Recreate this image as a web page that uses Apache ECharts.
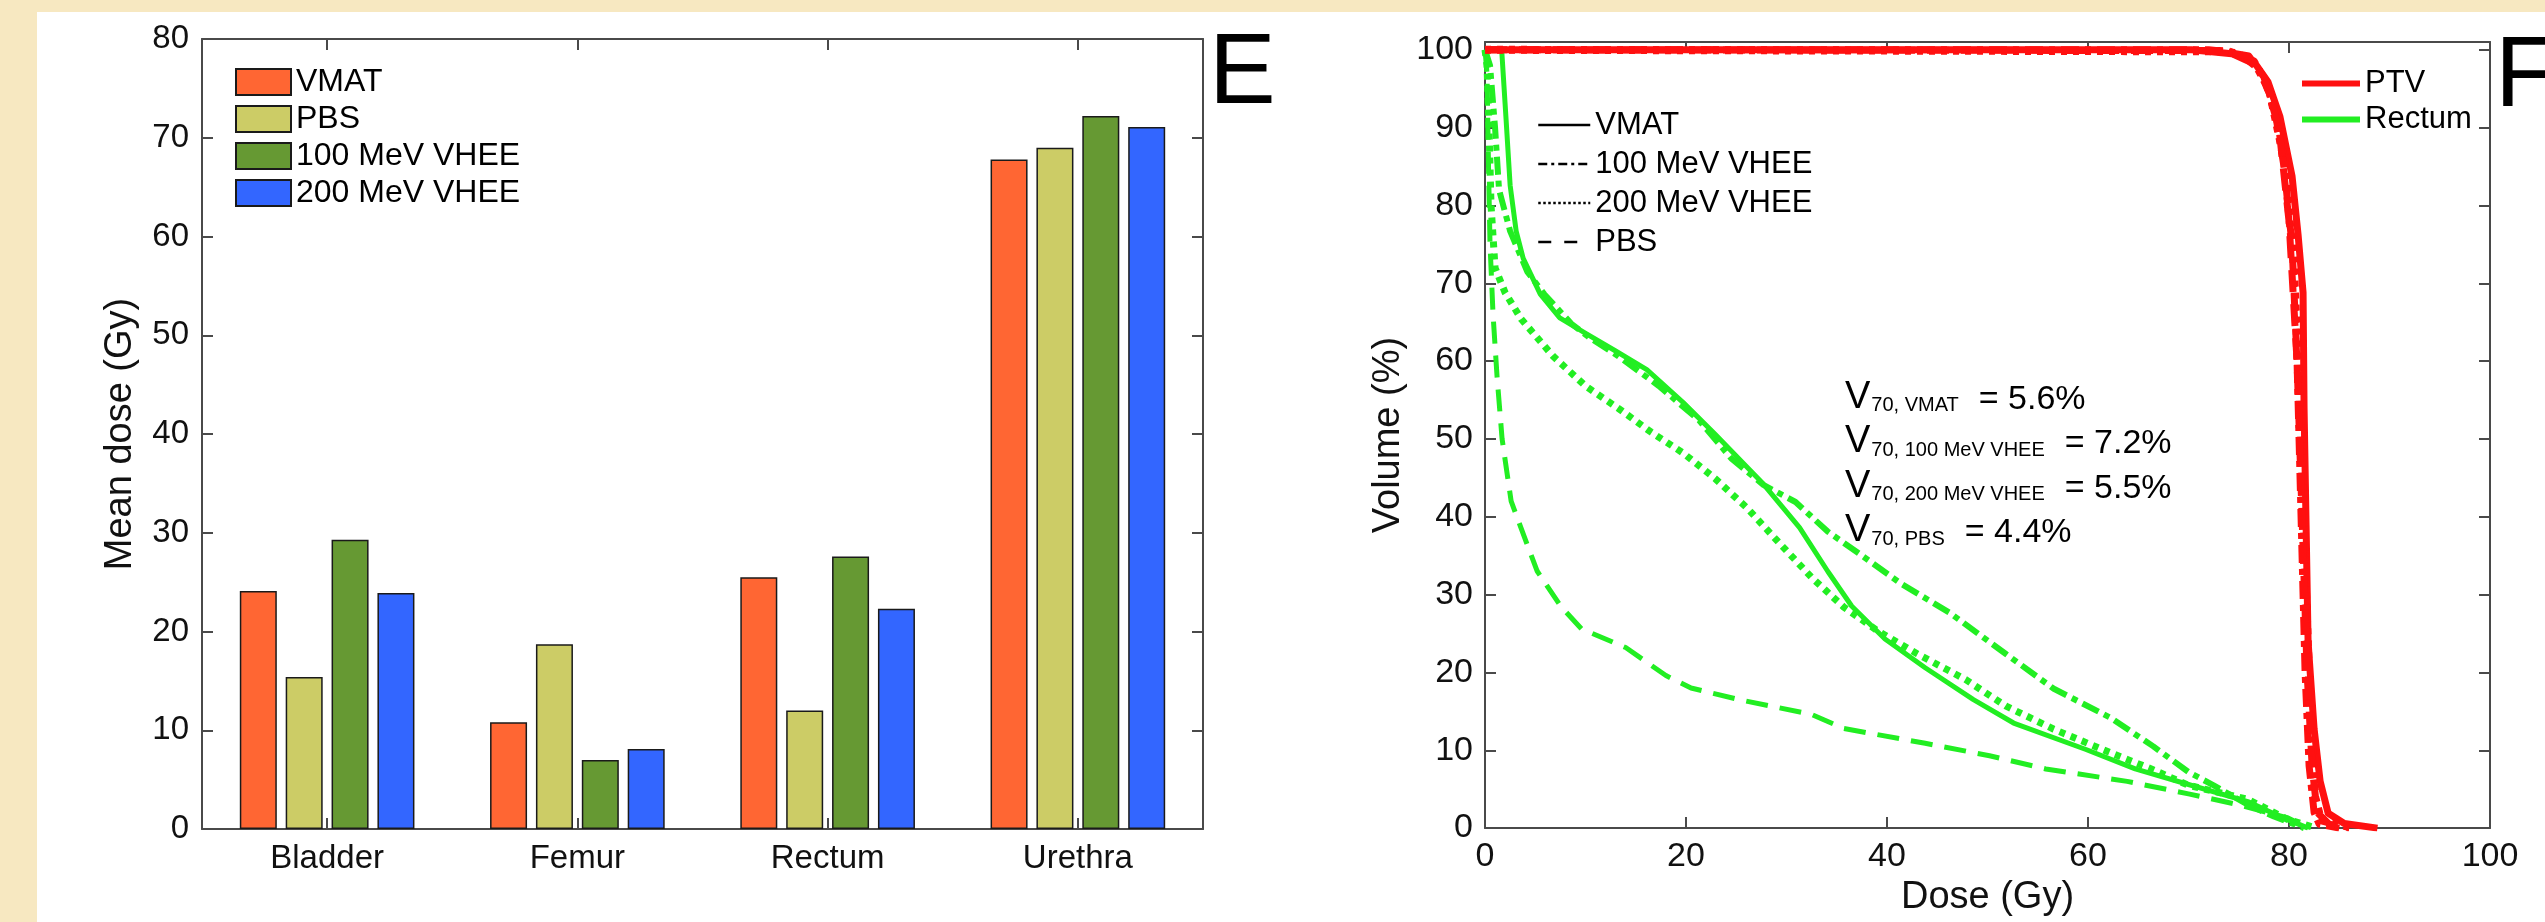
<!DOCTYPE html>
<html>
<head>
<meta charset="utf-8">
<script src="https://cdn.jsdelivr.net/npm/echarts@6.0.0/dist/echarts.min.js"></script>
<style>
  html, body { margin: 0; padding: 0; background: #F7E8C1; }
  #chart { width: 2545px; height: 922px; }
</style>
</head>
<body>
<div id="chart"></div>
<script>
// ---- Panel E: mean dose per organ ----
const organs = ['Bladder', 'Femur', 'Rectum', 'Urethra'];
const planNames = ['VMAT', 'PBS', '100 MeV VHEE', '200 MeV VHEE'];
const meanVMAT = [24.1, 10.8, 25.5, 67.8];
const meanPBS = [15.4, 18.7, 12.0, 69.0];
const mean100MeV = [29.3, 7.0, 27.6, 72.2];
const mean200MeV = [23.9, 8.1, 22.3, 71.1];
const barColors = ['#FF6633', '#CCCC66', '#669933', '#3366FF'];
const meanTicks = { min: 0, max: 80, interval: 10 };

// ---- Panel F: dose-volume histograms, [dose (Gy), volume (%)] ----
const rectumVMAT = [[0, 100], [1.66, 100], [2.1, 91], [2.5, 82.6], [3.1, 76.7], [3.8, 73.2], [5.5, 68.6], [7.4, 65.6], [10.1, 63.5], [13, 61.3], [16.1, 58.9], [19.7, 54.7], [22.9, 50.6], [27.7, 44.2], [31.3, 38.6], [34.1, 33], [36.5, 28.5], [39.8, 24.3], [43.8, 20.6], [48.6, 16.5], [52.6, 13.5], [59.8, 10.1], [64.7, 7.6], [70, 5.6], [75.9, 3.4], [79.1, 1.5], [81.9, 0]];
const rectum100MeV = [[0, 100], [0.5, 98], [1.0, 90], [1.4, 82], [2.5, 76.7], [4.2, 71.5], [5.9, 68.6], [8.6, 64.8], [10.3, 63.1], [13.3, 60.6], [17.3, 56.8], [21.3, 52.4], [24.5, 47.5], [27.7, 44.1], [30.9, 41.9], [34.1, 38.1], [37.3, 35.2], [41.4, 31.4], [46.2, 27.7], [51.8, 22.4], [56.6, 17.9], [62.2, 14.2], [66.5, 10.5], [70, 7.2], [72.5, 5.5], [75.9, 3.0], [78.5, 1.5], [81.5, 0]];
const rectum200MeV = [[0, 100], [0.2, 98], [0.4, 90], [0.6, 80], [1.0, 72], [2.0, 68.8], [3.6, 65.4], [6.8, 60.6], [10, 56.8], [13.3, 53.9], [16.5, 50.9], [19.7, 48.2], [22.9, 44.9], [26.1, 41.1], [29.3, 36.6], [32.5, 32.2], [35.7, 28.4], [39, 25.4], [43, 22.4], [47.8, 19.1], [51.8, 15.7], [56.6, 12.7], [62.2, 9.7], [66.3, 7.6], [70, 5.5], [75.9, 3.7], [79.9, 1.1], [82.7, 0]];
const rectumPBS = [[0, 100], [0.2, 97], [0.35, 85], [0.5, 75], [0.8, 66], [1.2, 58], [1.7, 50], [2.6, 42], [3.6, 38.5], [5.2, 33], [7.6, 28.4], [9.6, 25.6], [14, 23.2], [18, 19.6], [20.5, 18], [25.3, 16.5], [32.5, 14.6], [35.7, 12.8], [43.8, 10.9], [50.2, 9.3], [55.8, 7.6], [63.9, 6.0], [70, 4.4], [75, 3.0], [79.9, 1.3], [81.9, 0]];
const ptvVMAT = [[0, 100], [70.3, 100], [74.3, 99.5], [76.7, 98.1], [77.9, 95.9], [79.1, 91.4], [80.3, 83.8], [80.9, 76.3], [81.4, 68.8], [81.5, 53.9], [81.7, 38.9], [81.9, 23.9], [82.5, 12.7], [83.1, 6], [83.9, 1.9], [85.5, 0.6], [88.8, 0]];
const ptv100MeV = [[0, 100], [72, 100], [75, 99.6], [77, 97.5], [78.5, 93], [79.5, 85], [80.3, 75], [80.8, 60], [81.2, 40], [81.6, 20], [82, 8], [82.5, 2], [83, 0.5], [85, 0]];
const ptv200MeV = [[0, 100], [74, 99.8], [76.5, 98.5], [78, 95], [79.5, 86], [80.5, 72], [81.2, 50], [81.7, 30], [82.2, 12], [82.6, 4], [83.2, 1], [85.5, 0.3], [86.5, 0]];
const ptvPBS = [[0, 100], [73, 99.9], [76, 99.2], [77.5, 96.5], [79, 90], [80, 78], [80.8, 60], [81.3, 40], [81.8, 20], [82.3, 8], [82.8, 2], [84, 0.5], [86, 0]];
const doseTicks = { min: 0, max: 100, interval: 20 };
const volumeTicks = { min: 0, max: 101, interval: 10 };

const v70Plans = ['VMAT', '100 MeV VHEE', '200 MeV VHEE', 'PBS'];
const v70Values = [5.6, 7.2, 5.5, 4.4];

// ---- styling ----
const FONT = '"Liberation Sans", Arial, Helvetica, sans-serif';
const AXIS = '#4a4a4a';
const INK = '#111';
const GREEN = '#22EE22';
const RED = '#FF1010';
const dashFor = {
  'VMAT': 'solid',
  '100 MeV VHEE': [18, 6, 6, 6],
  '200 MeV VHEE': [6, 6],
  'PBS': [22, 12]
};
const keyDash = {
  'VMAT': 'solid',
  '100 MeV VHEE': [9, 4, 3, 4],
  '200 MeV VHEE': [2.5, 2.5],
  'PBS': [13, 13]
};

function boxAxis(extra) {
  return Object.assign({
    axisLine: { show: true, onZero: false, lineStyle: { color: AXIS, width: 2 } },
    axisTick: { show: true, inside: true, length: 11, lineStyle: { color: AXIS, width: 2 } },
    splitLine: { show: false },
    axisLabel: { show: false }
  }, extra);
}

const tickLabel = (size, margin, more) => Object.assign({
  show: true, fontSize: size, color: INK, fontFamily: FONT, margin: margin
}, more || {});

const meanSets = [meanVMAT, meanPBS, mean100MeV, mean200MeV];
const barSeries = planNames.map((name, i) => ({
  type: 'bar', name: name, xAxisIndex: 0, yAxisIndex: 0,
  data: meanSets[i], barWidth: 37, barGap: '24%',
  itemStyle: { color: barColors[i], borderColor: '#1a1a1a', borderWidth: 1.5 }
}));

const curves = [
  { plan: 'VMAT', data: rectumVMAT, color: GREEN, w: 5 },
  { plan: '100 MeV VHEE', data: rectum100MeV, color: GREEN, w: 6 },
  { plan: '200 MeV VHEE', data: rectum200MeV, color: GREEN, w: 7 },
  { plan: 'PBS', data: rectumPBS, color: GREEN, w: 5 },
  { plan: 'VMAT', data: ptvVMAT, color: RED, w: 7 },
  { plan: '100 MeV VHEE', data: ptv100MeV, color: RED, w: 7 },
  { plan: '200 MeV VHEE', data: ptv200MeV, color: RED, w: 8 },
  { plan: 'PBS', data: ptvPBS, color: RED, w: 7 }
];
const dvhSeries = curves.map((c, i) => ({
  type: 'line', name: 'dvh' + i, xAxisIndex: 2, yAxisIndex: 2,
  data: c.data, showSymbol: false, symbol: 'none', smooth: false,
  lineStyle: { color: c.color, width: c.w, type: dashFor[c.plan], cap: 'butt', join: 'round' },
  z: c.color === RED ? 4 : 3
}));

// legend-only series for the line-style key and structure key
const keySeries = v70Plans.map(p => ({
  type: 'line', name: 'key:' + p, xAxisIndex: 2, yAxisIndex: 2, data: [],
  symbol: 'none', itemStyle: { color: '#000' },
  lineStyle: { color: '#000', width: 2.5, type: keyDash[p] }
})).concat([
  { type: 'line', name: 'key:PTV', xAxisIndex: 2, yAxisIndex: 2, data: [], symbol: 'none',
    itemStyle: { color: RED }, lineStyle: { color: RED, width: 6 } },
  { type: 'line', name: 'key:Rectum', xAxisIndex: 2, yAxisIndex: 2, data: [], symbol: 'none',
    itemStyle: { color: GREEN }, lineStyle: { color: GREEN, width: 6 } }
]);

const v70Graphics = v70Plans.map((p, i) => ({
  type: 'text', x: 1845, y: 397.5 + i * 44.5, silent: true,
  style: {
    text: '{v|V}{s|70, ' + p + '}{e|= ' + v70Values[i].toFixed(1) + '%}',
    verticalAlign: 'middle', align: 'left', fill: '#000', fontFamily: FONT,
    rich: {
      v: { fontSize: 38, fontFamily: FONT, fill: '#000', verticalAlign: 'bottom' },
      s: { fontSize: 20, fontFamily: FONT, fill: '#000', verticalAlign: 'bottom', padding: [0, 0, 1, 1] },
      e: { fontSize: 34, fontFamily: FONT, fill: '#000', verticalAlign: 'bottom', padding: [0, 0, 0, 20] }
    }
  }
}));

const chart = echarts.init(document.getElementById('chart'), null, { renderer: 'canvas' });
chart.setOption({
  animation: false,
  backgroundColor: 'transparent',
  textStyle: { fontFamily: FONT },
  grid: [
    { left: 202, top: 39, right: 1342, bottom: 93, containLabel: false },
    { left: 1485, top: 42, right: 55, bottom: 87, containLabel: false }
  ],
  xAxis: [
    boxAxis({ gridIndex: 0, type: 'category', data: organs, position: 'bottom',
      axisTick: { show: true, inside: true, alignWithLabel: true, length: 11, lineStyle: { color: AXIS, width: 2 } },
      axisLabel: tickLabel(33, 13, { interval: 0 }) }),
    boxAxis({ gridIndex: 0, type: 'category', data: organs, position: 'top',
      axisTick: { show: true, inside: true, alignWithLabel: true, length: 11, lineStyle: { color: AXIS, width: 2 } } }),
    boxAxis(Object.assign({ gridIndex: 1, type: 'value', position: 'bottom',
      name: 'Dose (Gy)', nameLocation: 'middle', nameGap: 48,
      nameTextStyle: { fontSize: 38, color: INK, fontFamily: FONT },
      axisLabel: tickLabel(34, 12) }, doseTicks)),
    boxAxis(Object.assign({ gridIndex: 1, type: 'value', position: 'top' }, doseTicks))
  ],
  yAxis: [
    boxAxis(Object.assign({ gridIndex: 0, type: 'value', position: 'left',
      name: 'Mean dose (Gy)', nameLocation: 'middle', nameGap: 62, nameRotate: 90,
      nameTextStyle: { fontSize: 38, color: INK, fontFamily: FONT },
      axisLabel: tickLabel(33, 13) }, meanTicks)),
    boxAxis(Object.assign({ gridIndex: 0, type: 'value', position: 'right' }, meanTicks)),
    boxAxis(Object.assign({ gridIndex: 1, type: 'value', position: 'left',
      name: 'Volume (%)', nameLocation: 'middle', nameGap: 77, nameRotate: 90,
      nameTextStyle: { fontSize: 38, color: INK, fontFamily: FONT },
      axisLabel: tickLabel(34, 12, { showMaxLabel: false }) }, volumeTicks)),
    boxAxis(Object.assign({ gridIndex: 1, type: 'value', position: 'right' }, volumeTicks))
  ],
  legend: [
    { data: planNames, orient: 'vertical', left: 230, top: 61, icon: 'rect',
      itemWidth: 55, itemHeight: 26, itemGap: 5, selectedMode: false,
      textStyle: { fontSize: 32, lineHeight: 30, color: '#000', fontFamily: FONT } },
    { data: v70Plans.map(p => 'key:' + p), orient: 'vertical', left: 1532, top: 103,
      itemWidth: 52, itemHeight: 14, itemGap: 5, selectedMode: false,
      formatter: n => n.replace('key:', ''), itemStyle: { opacity: 0 },
      lineStyle: { width: 2.5 },
      textStyle: { fontSize: 31, lineHeight: 34, color: '#000', fontFamily: FONT } },
    { data: ['key:PTV', 'key:Rectum'], orient: 'vertical', left: 2294, top: 63,
      itemWidth: 58, itemHeight: 14, itemGap: 5, selectedMode: false,
      formatter: n => n.replace('key:', ''), itemStyle: { opacity: 0 },
      lineStyle: { width: 6 },
      textStyle: { fontSize: 31, lineHeight: 31, color: '#000', fontFamily: FONT } }
  ],
  graphic: [
    { type: 'rect', silent: true, z: -100, shape: { x: 37, y: 12, width: 2508, height: 910 }, style: { fill: '#ffffff' } },
    { type: 'text', silent: true, x: 1209, y: 75, style: { text: 'E', fontSize: 100, fontFamily: FONT, fill: '#000', verticalAlign: 'middle', align: 'left' } },
    { type: 'text', silent: true, x: 2495, y: 78, style: { text: 'F', fontSize: 100, fontFamily: FONT, fill: '#000', verticalAlign: 'middle', align: 'left' } }
  ].concat(v70Graphics),
  series: barSeries.concat(dvhSeries, keySeries)
});
</script>
</body>
</html>
